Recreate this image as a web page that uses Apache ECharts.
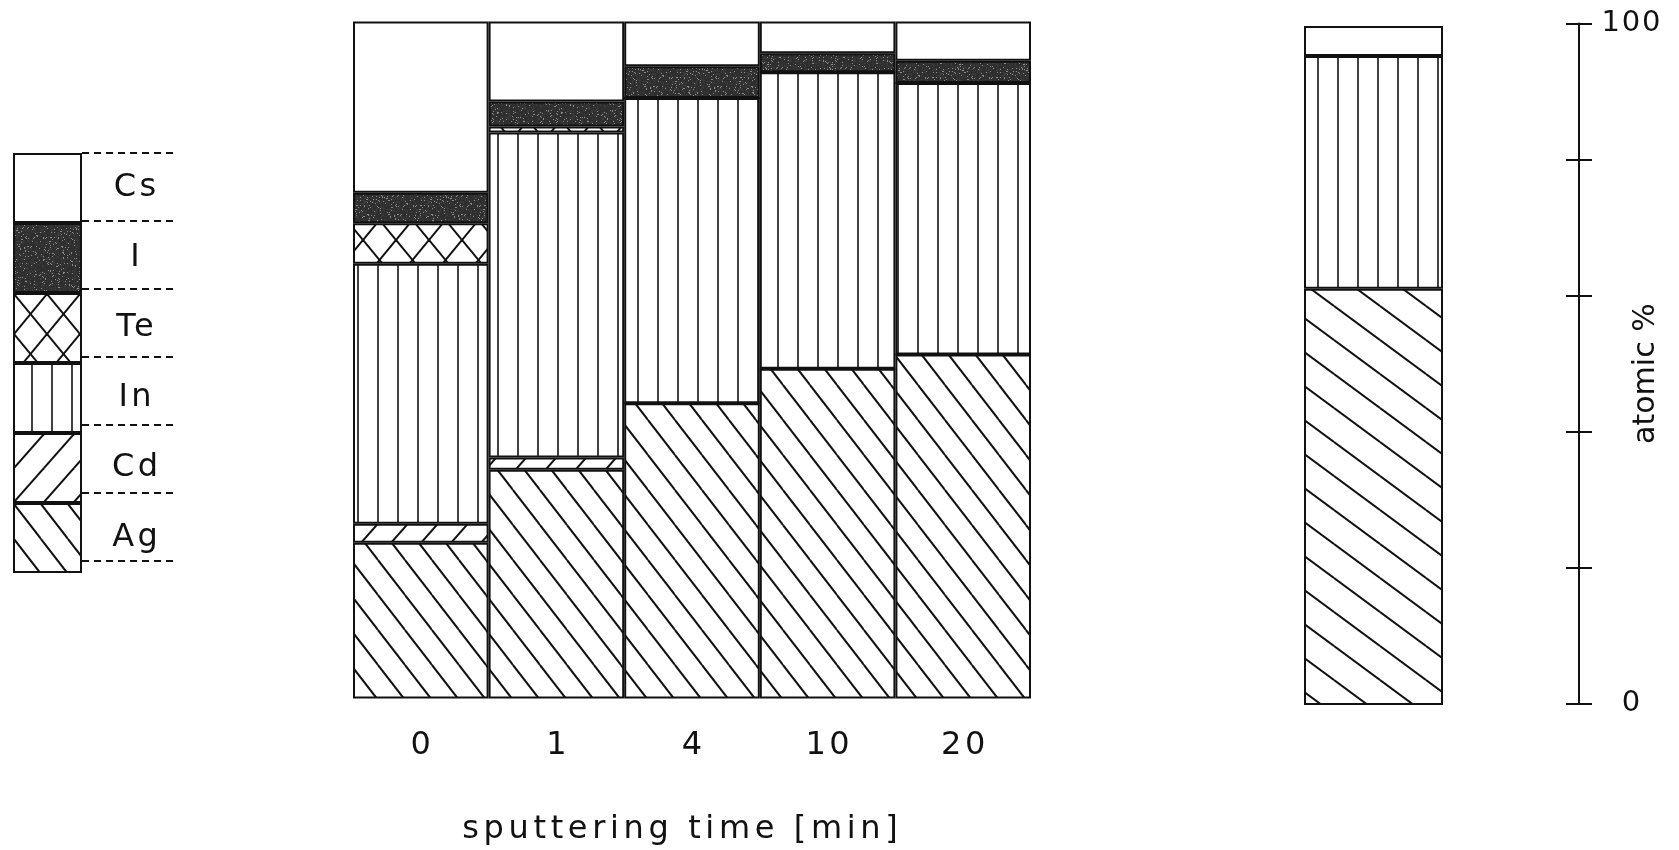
<!DOCTYPE html>
<html>
<head>
<meta charset="utf-8">
<script src="https://cdn.jsdelivr.net/npm/echarts@6/dist/echarts.min.js"></script>
<style>
html,body{margin:0;padding:0;background:#fff;}
#chart{width:1679px;height:850px;}
</style>
</head>
<body>
<div id="chart"></div>
<script>
// ---------------- data ----------------
const times = ['0', '1', '4', '10', '20'];
const elements = ['Cs', 'I', 'Te', 'In', 'Cd', 'Ag'];   // legend order (top to bottom)
const Ag = [23.0, 33.8, 43.6, 48.7, 50.8];
const Cd = [2.8, 1.8, 0, 0, 0];
const In = [38.4, 48.0, 45.1, 43.8, 40.1];
const Te = [6.0, 0.9, 0, 0, 0];
const I  = [4.5, 3.7, 4.7, 2.8, 3.3];
const Cs = [25.3, 11.8, 6.6, 4.7, 5.8];
const refCategory = ['ref'];
const refAg = [61.3];
const refIn = [34.3];
const refCs = [4.4];
const yTickValues = [0, 20, 40, 60, 80, 100];
const yTickLabels = ['0', '', '', '', '', '100'];
const xTitle = 'sputtering time [min]';
const yTitle = 'atomic %';

// ---------------- letter spacing for the plotter-like lettering ----------------
(function () {
  const proto = CanvasRenderingContext2D.prototype;
  const orig = proto.fillText;
  const special = {};
  special[yTitle] = 0;
  special[xTitle] = 0.145;
  special['100'] = 0.06;
  proto.fillText = function (t, x, y, m) {
    const mm = /(\d+(?:\.\d+)?)px/.exec(this.font);
    const size = mm ? parseFloat(mm[1]) : 12;
    let ratio = size > 20 ? 0.11 : 0;
    if (Object.prototype.hasOwnProperty.call(special, t) && size > 20) ratio = special[t];
    const sp = size * ratio;
    const prev = this.letterSpacing;
    this.letterSpacing = sp + 'px';
    let xx = x;
    if (this.textAlign === 'center') xx += sp / 2;
    else if (this.textAlign === 'right' || this.textAlign === 'end') xx += sp;
    if (m === undefined) orig.call(this, t, xx, y); else orig.call(this, t, xx, y, m);
    this.letterSpacing = prev;
  };
})();

// ---------------- fill patterns ----------------
const INK = '#111';
function tile(w, h, draw) {
  const c = document.createElement('canvas');
  c.width = w; c.height = h;
  const ctx = c.getContext('2d');
  ctx.fillStyle = '#fff';
  ctx.fillRect(0, 0, w, h);
  ctx.strokeStyle = INK;
  for (let dx = -w; dx <= w; dx += w) {
    for (let dy = -h; dy <= h; dy += h) {
      ctx.save(); ctx.translate(dx, dy); draw(ctx, w, h); ctx.restore();
    }
  }
  return { image: c, repeat: 'repeat' };
}
function back(ctx, w, h) { ctx.lineWidth = 2; ctx.beginPath(); ctx.moveTo(0, 0); ctx.lineTo(w, h); ctx.stroke(); }
function fwd(ctx, w, h) { ctx.lineWidth = 2; ctx.beginPath(); ctx.moveTo(0, h); ctx.lineTo(w, 0); ctx.stroke(); }
const patAg = tile(27, 35, back);
const patAgRef = tile(46, 34, back);
const patCd = tile(30, 34, fwd);
const patIn = tile(20, 4, function (ctx, w, h) { ctx.lineWidth = 1.6; ctx.beginPath(); ctx.moveTo(18, 0); ctx.lineTo(18, h); ctx.stroke(); });
const patTe = tile(33, 40, function (ctx, w, h) { back(ctx, w, h); fwd(ctx, w, h); });
const patI = (function () {
  const S = 64;
  const c = document.createElement('canvas');
  c.width = S; c.height = S;
  const ctx = c.getContext('2d');
  ctx.fillStyle = '#2e2e2e';
  ctx.fillRect(0, 0, S, S);
  for (let y = 0; y < S; y++) for (let x = 0; x < S; x++) {
    const v = Math.sin(x * 12.9898 + y * 78.233) * 43758.5453;
    const f = v - Math.floor(v);
    if (f < 0.07) { ctx.fillStyle = '#8c8c8c'; ctx.fillRect(x, y, 1, 1); }
    else if (f > 0.8) { ctx.fillStyle = '#3c3c3c'; ctx.fillRect(x, y, 1, 1); }
  }
  return { image: c, repeat: 'repeat' };
})();
const patCs = '#ffffff';

// ---------------- chart ----------------
const chart = echarts.init(document.getElementById('chart'), null, { renderer: 'canvas' });
const FONT = 'DejaVu Sans';
const border = { borderColor: INK, borderWidth: 2 };

function mainSeries(name, data, color) {
  return {
    name: name, type: 'bar', stack: 'main', data: data,
    xAxisIndex: 0, yAxisIndex: 0,
    barCategoryGap: '0%', barGap: '0%',
    itemStyle: Object.assign({ color: color }, border),
    emphasis: { disabled: true }, silent: true
  };
}
function refSeries(name, data, color) {
  return {
    name: name, type: 'bar', stack: 'ref', data: data,
    xAxisIndex: 1, yAxisIndex: 1,
    barCategoryGap: '0%', barGap: '0%',
    itemStyle: Object.assign({ color: color }, border),
    emphasis: { disabled: true }, silent: true
  };
}

const legendRowTop = 153, legendRowH = 68;
const dashLines = [];
for (let i = 0; i <= elements.length; i++) {
  dashLines.push({
    type: 'line', silent: true,
    shape: { x1: 82, y1: legendRowTop + i * legendRowH, x2: 178, y2: legendRowTop + i * legendRowH },
    style: { stroke: INK, lineWidth: 2, lineDash: [7, 5] }
  });
}

const gridBase = { outerBoundsMode: 'none', containLabel: false };
const option = {
  animation: false,
  backgroundColor: '#fff',
  textStyle: { fontFamily: FONT, color: INK },
  grid: [
    Object.assign({ left: 353, top: 21.5, width: 678, height: 677 }, gridBase),
    Object.assign({ left: 1304, top: 26, width: 139, height: 679 }, gridBase),
    Object.assign({ left: 1440, top: 23.6, width: 139, height: 680 }, gridBase),
    Object.assign({ left: 1440, top: 23.6, width: 139, height: 680 }, gridBase)
  ],
  legend: {
    orient: 'vertical', left: 13, top: legendRowTop, padding: 0,
    itemWidth: 67, itemHeight: legendRowH, itemGap: 0,
    icon: 'rect', selectedMode: false,
    data: elements,
    formatter: '{t|{name}}',
    textStyle: {
      color: INK,
      rich: { t: { width: 98, align: 'center', fontSize: 32, fontFamily: FONT, color: INK } }
    }
  },
  xAxis: [
    {
      gridIndex: 0, type: 'category', data: times,
      axisLine: { show: false }, axisTick: { show: false },
      axisLabel: { interval: 0, margin: 31, fontSize: 32, fontFamily: FONT, color: INK },
      name: xTitle, nameLocation: 'middle', nameGap: 115, nameMoveOverlap: false,
      nameTextStyle: { fontSize: 32, fontFamily: FONT, color: INK, padding: [0, 24, 0, 0] }
    },
    { gridIndex: 1, type: 'category', data: refCategory, show: false },
    { gridIndex: 2, type: 'value', show: false, min: 0, max: 1 },
    { gridIndex: 3, type: 'value', show: false, min: 0, max: 1 }
  ],
  yAxis: [
    { gridIndex: 0, type: 'value', min: 0, max: 100, show: false },
    { gridIndex: 1, type: 'value', min: 0, max: 100, show: false },
    {
      gridIndex: 2, type: 'value', min: 0, max: 100, interval: 20, position: 'right',
      axisLine: { show: true, onZero: false, lineStyle: { color: INK, width: 2 } },
      axisTick: { show: true, inside: false, length: 13, lineStyle: { color: INK, width: 2 } },
      splitLine: { show: false },
      axisLabel: {
        margin: 52, align: 'center', fontSize: 29, fontFamily: FONT, color: INK,
        formatter: function (v) { const k = yTickValues.indexOf(v); return k >= 0 ? yTickLabels[k] : ''; }
      },
      name: yTitle, nameLocation: 'middle', nameRotate: 90, nameGap: 52, nameMoveOverlap: false,
      nameTextStyle: { fontSize: 30, fontFamily: FONT, color: INK, padding: [0, 20, 0, 0] }
    },
    {
      gridIndex: 3, type: 'value', min: 0, max: 100, interval: 20, position: 'right',
      axisLine: { show: false, onZero: false },
      axisTick: { show: true, inside: true, length: 13, lineStyle: { color: INK, width: 2 } },
      splitLine: { show: false }, axisLabel: { show: false }
    }
  ],
  series: [
    mainSeries('Ag', Ag, patAg),
    mainSeries('Cd', Cd, patCd),
    mainSeries('In', In, patIn),
    mainSeries('Te', Te, patTe),
    mainSeries('I', I, patI),
    mainSeries('Cs', Cs, patCs),
    refSeries('Ag', refAg, patAgRef),
    refSeries('In', refIn, patIn),
    refSeries('Cs', refCs, patCs)
  ],
  graphic: dashLines
};
chart.setOption(option);
</script>
</body>
</html>
